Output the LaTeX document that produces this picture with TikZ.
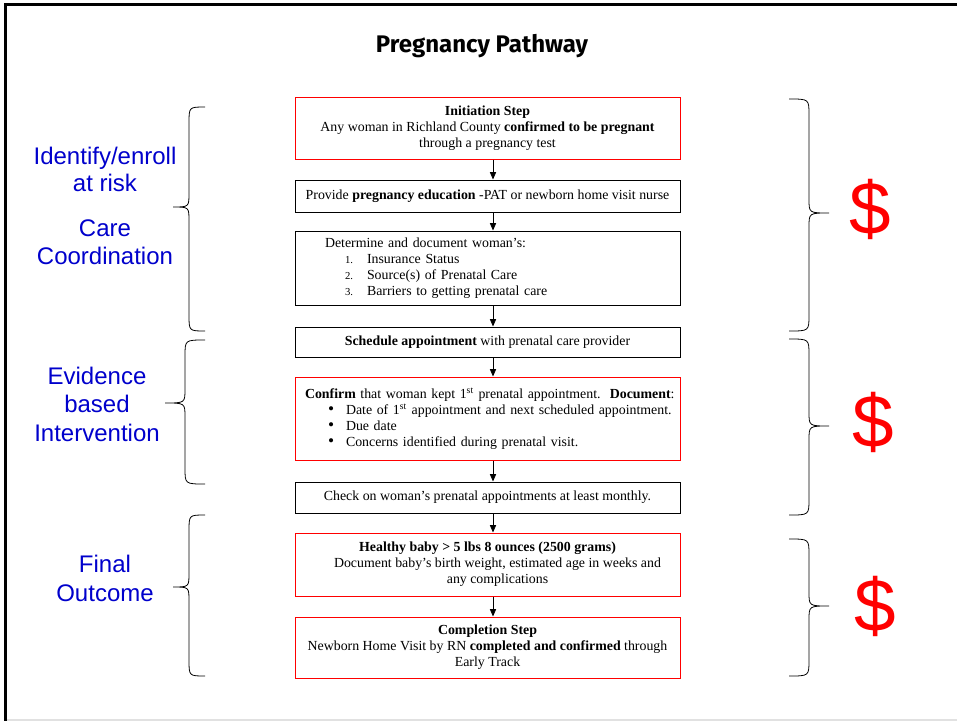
\documentclass[tikz,border=0pt]{standalone}
\usepackage{fontspec}
\setmainfont{Liberation Serif}
\newfontfamily\labelfont{Liberation Sans}
\newfontfamily\headfont{Fira Sans}
\usetikzlibrary{arrows.meta}
\definecolor{labelblue}{RGB}{0,0,204}
\definecolor{framegray}{RGB}{225,225,225}

% one brace: end x, spine x, tip x, top y, middle y, bottom y
\newcommand{\groupbrace}[6]{%
  \draw[brc] (#1,#4) .. controls (#2,#4) .. (#2,{#4+16})
    -- (#2,{#5-14}) .. controls (#2,#5) .. (#3,#5)
    .. controls (#2,#5) .. (#2,{#5+14})
    -- (#2,{#6-16}) .. controls (#2,#6) .. (#1,#6);}
% list markers
\newcommand{\numitem}[1]{\hspace*{15pt}\makebox[16.5pt][l]{\fontsize{8}{10}\selectfont #1.}}
\newcommand{\dotitem}{\hspace*{17.25pt}\makebox[13.5pt][l]{\fontsize{13}{12}\selectfont\textbullet}}

\begin{document}
\begin{tikzpicture}[x=0.75pt,y=-0.75pt,
  stepbox/.style={draw=black, line width=0.75pt, minimum width=288.75pt,
    inner sep=0pt, font=\fontsize{10.4}{12}\selectfont, align=center},
  keybox/.style={stepbox, draw=red},
  flow/.style={-{Triangle[length=5.5pt,width=4.6pt]}, line width=0.6pt},
  brc/.style={line width=0.6pt},
  group/.style={font=\labelfont\fontsize{18}{21}\selectfont, text=labelblue,
    anchor=base, inner sep=0pt},
  cost/.style={font=\labelfont\fontsize{56}{60}\selectfont, text=red, inner sep=0pt},
  heading/.style={font=\headfont\bfseries\fontsize{18}{20}\selectfont, inner sep=0pt}]

\useasboundingbox (0,0) rectangle (957,721);
\fill[white] (0,0) rectangle (957,721);

% slide frame
\draw[framegray, line width=1.5pt] (5,719.5) -- (957,719.5);
\draw[black, line width=2.2pt] (5.5,721) -- (5.5,4.5) -- (957,4.5);

% heading
\node[heading] (title) at (482,46) {Pregnancy Pathway};

% pathway steps
\node[keybox, minimum height=62*0.75pt] (init) at (487.5,128)
  {\textbf{Initiation Step}\\
   Any woman in Richland County \textbf{confirmed to be pregnant}\\
   through a pregnancy test};
\node[stepbox, minimum height=32*0.75pt] (educ) at (487.5,196)
  {Provide \textbf{pregnancy education} -PAT or newborn home visit nurse};
\node[stepbox, minimum height=74*0.75pt, align=left, inner xsep=22.5pt,
      text width=243.75pt] (doc) at (487.5,268)
  {Determine and document woman’s:\\
   \numitem{1}Insurance Status\\
   \numitem{2}Source(s) of Prenatal Care\\
   \numitem{3}Barriers to getting prenatal care};
\node[stepbox, minimum height=30*0.75pt] (sched) at (487.5,342)
  {\textbf{Schedule appointment} with prenatal care provider};
\node[keybox, minimum height=83*0.75pt, align=left, inner xsep=7.5pt,
      text width=273.75pt] (conf) at (487.5,418.5)
  {\mbox{\textbf{Confirm} that woman kept 1\textsuperscript{st} prenatal appointment.\ \ \textbf{Document}:}\\
   \dotitem\mbox{Date of 1\textsuperscript{st} appointment and next scheduled appointment.}\\
   \dotitem Due date\\
   \dotitem Concerns identified during prenatal visit.};
\node[stepbox, minimum height=31*0.75pt] (check) at (487.5,497.5)
  {Check on woman’s prenatal appointments at least monthly.};
\node[keybox, minimum height=63*0.75pt] (baby) at (487.5,564.5)
  {\textbf{Healthy baby > 5 lbs 8 ounces (2500 grams)}\\
   \hspace*{15pt}Document baby’s birth weight, estimated age in weeks and\\
   \hspace*{15pt}any complications};
\node[keybox, minimum height=61*0.75pt] (done) at (487.5,647.5)
  {\textbf{Completion Step}\\
   Newborn Home Visit by RN \textbf{completed and confirmed} through\\
   Early Track};

% connectors
\coordinate (ax) at (493,0);
\draw[flow] (init.south -| ax) -- (educ.north -| ax);
\draw[flow] (educ.south -| ax) -- (doc.north -| ax);
\draw[flow] (doc.south -| ax) -- (sched.north -| ax);
\draw[flow] (sched.south -| ax) -- (conf.north -| ax);
\draw[flow] (conf.south -| ax) -- (check.north -| ax);
\draw[flow] (check.south -| ax) -- (baby.north -| ax);
\draw[flow] (baby.south -| ax) -- (done.north -| ax);

% left braces and phase labels
\groupbrace{205}{189}{173}{107}{207}{331}
\groupbrace{205}{185}{165}{340}{403}{484}
\groupbrace{205}{189}{173}{515}{587}{676}

\node[group] (l1a) at (105,164) {Identify/enroll};
\node[group] (l1b) at (105,191.7) {at risk};
\node[group] (l2a) at (105,236.7) {Care};
\node[group] (l2b) at (105,264) {Coordination};
\node[group] (l3a) at (97,384) {Evidence};
\node[group] (l3b) at (97,412) {based};
\node[group] (l3c) at (97,441) {Intervention};
\node[group] (l4a) at (105,572.7) {Final};
\node[group] (l4b) at (105,601) {Outcome};

% right braces and cost marks
\groupbrace{789}{809}{829}{99}{213}{331}
\groupbrace{789}{809}{829}{339}{426}{515}
\groupbrace{789}{809}{829}{539}{606}{676}

\node[cost] (c1) at (870,209) {\$};
\node[cost] (c2) at (873,422) {\$};
\node[cost] (c3) at (875,606) {\$};

\end{tikzpicture}
\end{document}
